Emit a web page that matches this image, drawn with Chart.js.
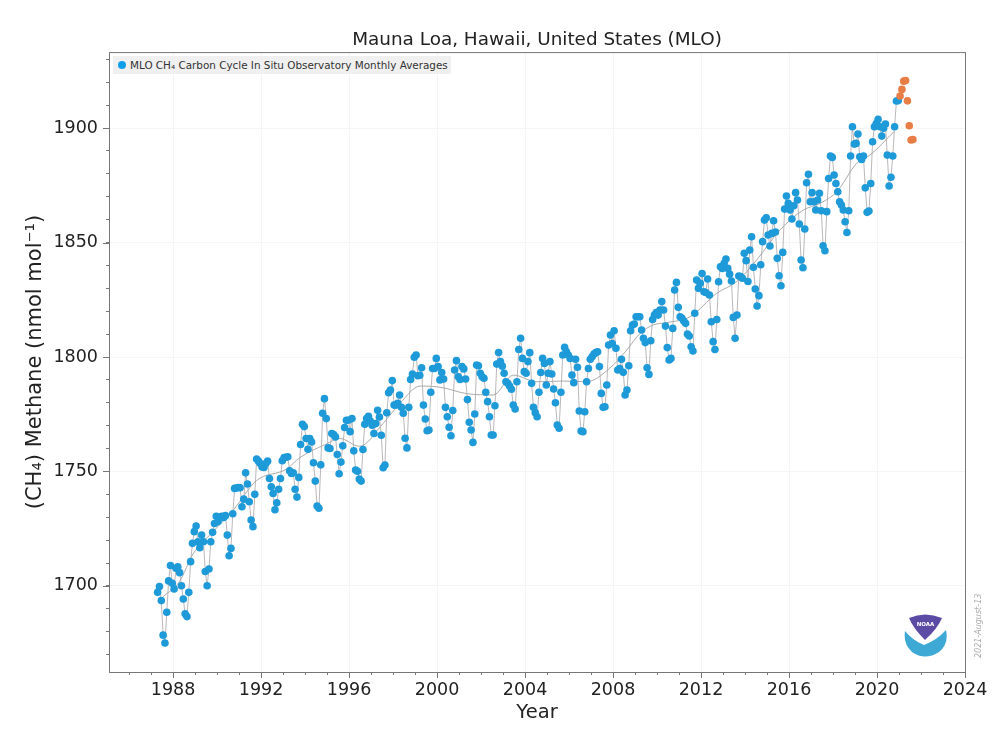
<!DOCTYPE html>
<html>
<head>
<meta charset="utf-8">
<title>Mauna Loa CH4</title>
<script src="https://cdn.jsdelivr.net/npm/chart.js@4"></script>
<style>
    html, body { margin: 0; padding: 0; background: #fff; font-family: "DejaVu Sans", sans-serif; }
    #wrap { position: relative; width: 1000px; height: 739px; overflow: hidden; }
    #legend { position: absolute; left: 113px; top: 56px; width: 338px; height: 18px; background: #f0f0f0; font-size: 10.4px; line-height: 18px; color: #333; white-space: nowrap; }
    #legend i { position: absolute; left: 5px; top: 5px; width: 8px; height: 8px; border-radius: 50%; background: #0f9fea; }
    #legend span { position: absolute; left: 17px; }
    #stamp { position: absolute; left: 974px; top: 658px; transform-origin: 0 0; transform: rotate(-90deg); font-size: 8px; font-style: italic; color: #aaa; white-space: nowrap; }
    #logo { position: absolute; left: 904px; top: 614px; }
</style>
</head>
<body>
<div id="wrap">
    <canvas id="chart" width="1000" height="739"></canvas>
    <div id="legend"><i></i><span>MLO CH₄ Carbon Cycle In Situ Observatory Monthly Averages</span></div>
    <div id="stamp">2021-August-13</div>
    <svg id="logo" width="44" height="44" viewBox="0 0 44 44">
        <path d="M5 4 Q21 -3 38 4 Q34 14 21 26 Q9 14 5 4Z" fill="#5b4ba5"/>
        <path d="M1 17 Q8 26 20 31 Q33 26 42 16 Q45 30 35 38 Q21 47 8 38 Q-1 30 1 17Z" fill="#3fa9d6"/>
        <text x="21.5" y="12" text-anchor="middle" font-size="5.5" font-weight="bold" fill="#fff" font-family="DejaVu Sans">NOAA</text>
    </svg>
</div>
<script>
// monthly averages, first point is spring 1987
var firstYear = 1987.3
var mloMonthly = [
    1697.2,1699.7,1693.6,1678.5,1675.1,1688.5,1702.2,1708.9,1701.2,1698.7,1707.7,1708.4,
    1705.8,1700.1,1694.3,1687.8,1686.6,1697.2,1710.6,1718.6,1723.7,1726.2,1719.3,1716.7,
    1722.2,1719.3,1706.3,1700.1,1707.4,1719.3,1723.4,1727.3,1730.4,1728.1,1730.1,1730.4,
    1729.9,1730.7,1722.2,1713.2,1716.4,1731.5,1742.6,1742.8,1743,1742.9,1734.6,1737.9,
    1749.4,1744.5,1736.8,1728.8,1725.9,1740,1755.4,1754.5,1753.5,1752,1751.7,1753.5,
    1754.5,1746.9,1743.3,1740.4,1733.3,1736.3,1742.2,1746.9,1754.7,1756.1,1756.2,1756.4,
    1750.3,1749.1,1749.4,1742.2,1738.8,1747.4,1761.8,1770.6,1769.6,1764.4,1759.7,1764.4,
    1762.9,1753.8,1745.8,1734.9,1733.9,1752.9,1775.4,1781.8,1773.1,1760.3,1760,1766.6,
    1766.1,1765.1,1757.4,1749,1754.1,1761.2,1769.2,1772.4,1772.4,1767.4,1773.1,1759,
    1750.6,1750.1,1746.7,1745.8,1759.6,1770.6,1773.1,1774.1,1772,1770.2,1766.6,1770.9,
    1776.7,1773.8,1765.8,1751.6,1752.8,1775.6,
    1784.4,1785.6,1789.7,1779,1779,1779.8,1783.4,1778,1775.4,1764.5,1760.3,
    1778,1790.2,1792.6,1799.9,1800.9,1791.8,1792,1795.3,1779,1772.9,1767.8,1768.1,
    1784.6,1795,1795,1799.4,1795.8,1790,1793.2,1790.4,1778,1773.9,1769.3,1765.6,
    1776.6,1794.3,1798.4,1791.4,1790.2,1795.8,1794.8,1790.4,1781.4,1771.5,1768.1,1762.7,
    1775.1,1796.5,1796.2,1792.9,1791.4,1790.7,1784.6,1780.5,1773.9,1765.9,1765.9,1778.7,
    1796.9,1802,1798,1796,1792.9,1789.2,1788.5,1787.3,1785.9,1779,1777.3,1789.2,
    1803.3,1808.2,1799.4,1793.6,1792.9,1798,1801.9,1788.5,1778,1775.7,1773.9,1784.6,
    1793.2,1799.4,1797.2,1787.8,1792.9,1798,1792.6,1786,1780,1770.3,1768.9,1784.6,
    1800.9,1804.2,1802.3,1800.9,1799.4,1792.1,1788.8,1799,1795.5,1776.4,1767.7,1767.4,
    1776.1,1789.2,1795,1799,1800.1,1801.3,1801.9,1802.3,1795.8,1784.1,1778,1778.3,
    1787.8,1805.2,1809.6,1805.9,1811.5,1803.8,1794.3,1795,1799,1793.3,1783.4,1785.6,
    1796.2,1811.5,1814,1814.4,1817.6,1817.6,1817.6,1811.8,1808.2,1806.3,1795.3,1792.4,
    1807.1,1816.4,1818.3,1819.4,1818.3,1820.5,1824.2,1820.5,1813.5,1804.1,1798.7,1799.4,
    1812.5,1829.3,1832.6,1821.7,1817.6,1816.9,1815.7,1814.7,1810,1809.2,1804.5,1802.6,
    1819.1,1833.6,1830,1832.2,1836.5,1828.5,1828.2,1834.1,1827.1,1815.4,1806.7,1803.3,
    1816.4,1832.9,1839.4,1838.7,1840.9,1842.8,1838.7,1836.2,1833.2,1817.3,1808.2,1818.3,
    1835.4,1835.1,1834.4,1845.3,1842.1,1833,1846.7,1852.5,1839.2,1829.7,1822.3,1826.8,
    1840.3,1850.4,1859.8,1860.8,1853.3,1848.5,1854,1859.5,1854.6,1843.1,1835.5,1831.1,
    1845.7,1864.6,1870.3,1867.1,1864.2,1860.3,1866.1,1871.8,1868.6,1858.1,1842.4,1839,
    1855.9,1876.1,1879.8,1867.8,1871.8,1867.8,1864.2,1868.6,1871.5,1863.9,1848.6,1846.4,
    1863.5,1878,1887.8,1887.2,1879.5,1875.8,1872.2,1867.8,1866.4,1864.2,1859.1,1854.4,
    1863.9,1887.8,1900.6,1893,1893.3,1897.4,1887.5,1886.3,1887.8,1873.9,1863.2,1863.8,
    1875.8,1894,1900.6,1902,1903.8,1900.6,1896.5,1899.9,1901.8,1888.2,1874.7,1878.5,
    1887.8,1900.6,1911.8,1912
]
// preliminary months at the end, drawn orange
var mloPrelim = [1914,1916.9,1920.5,1920.8,1911.9,1901,1894.8,1895]
// smoothed trend
var trendYears = [1987.55,1988.3,1988.91,1989.82,1990.73,1991.79,1993.15,1993.76,1994.97,1995.58,1996.48,1997.55,
    1998.32,1999.23,2000.14,2001.35,2002.56,2003.47,2004.53,2005.74,2006.8,2008.01,2008.62,2009.23,2009.83,2010.44,
    2011.5,2012.71,2013.62,2014.53,2015.59,2016.65,2017.41,2018.17,2019.08,2019.68,2020.77]
var trendValues = [1695.3,1702,1714,1723.7,1733,1746,1751,1756,1762,1764.4,1761,1771,
    1779.8,1787.3,1786.8,1784,1783.4,1792.1,1789.2,1789.5,1789.2,1796.5,1803,1810.3,1814,1815,
    1817.6,1827.8,1832.9,1842.4,1855.5,1864.2,1867.1,1872.2,1884.6,1888.2,1898.4]

var xMin = 1985.09, xMax = 2024
var yMin = 1662.4, yMax = 1933.2

function monthlyPoints(values, offset) {
    return values.map((v, i) => ({x: firstYear + (i + offset) / 12, y: v}))
}

function range(from, to, step) {
    var out = []
    for(var v=from; v<=to; v+=step) out.push({value: v})
    return out
}

// frame around the plot and longer ticks for the labelled values
var framePlugin = {
    id: 'frame',
    afterDraw(chart) {
        var ctx = chart.ctx, a = chart.chartArea
        ctx.save()
        ctx.strokeStyle = '#777'
        ctx.lineWidth = 1
        ctx.strokeRect(a.left + 0.5, a.top + 0.5, a.right - a.left, a.bottom - a.top)
        ctx.beginPath()
        chart.scales.x.ticks.forEach(t => {
            if(t.value % 4 === 0) {
                var px = Math.round(chart.scales.x.getPixelForValue(t.value)) + 0.5
                ctx.moveTo(px, a.bottom)
                ctx.lineTo(px, a.bottom + 6)
            }
        })
        chart.scales.y.ticks.forEach(t => {
            if(t.value % 50 === 0) {
                var py = Math.round(chart.scales.y.getPixelForValue(t.value)) + 0.5
                ctx.moveTo(a.left, py)
                ctx.lineTo(a.left - 6, py)
            }
        })
        ctx.stroke()
        ctx.restore()
    }
}

new Chart(document.getElementById('chart').getContext('2d'), {
    type: 'scatter',
    plugins: [framePlugin],
    data: {
        datasets: [{
            label: 'Trend',
            data: trendYears.map((x, i) => ({x: x, y: trendValues[i]})),
            showLine: true,
            borderColor: 'rgba(150,150,150,0.8)',
            borderWidth: 1,
            cubicInterpolationMode: 'monotone',
            pointRadius: 0,
            order: 3
        }, {
            label: 'Monthly',
            data: monthlyPoints(mloMonthly, 0),
            showLine: true,
            borderColor: 'rgba(170,165,170,0.8)',
            borderWidth: 1,
            backgroundColor: '#1e9ad9',
            pointBackgroundColor: '#1e9ad9',
            pointBorderWidth: 0,
            pointRadius: 3.8,
            order: 2
        }, {
            label: 'Preliminary',
            data: monthlyPoints(mloPrelim, mloMonthly.length),
            showLine: false,
            backgroundColor: '#e87d45',
            pointBackgroundColor: '#e87d45',
            pointBorderWidth: 0,
            pointRadius: 3.8,
            order: 1
        }]
    },
    options: {
        responsive: false,
        animation: false,
        layout: {padding: {right: 35}},
        plugins: {
            legend: {display: false},
            tooltip: {enabled: false},
            title: {
                display: true,
                text: 'Mauna Loa, Hawaii, United States (MLO)',
                fullSize: false,
                color: '#222',
                font: {family: '"DejaVu Sans"', size: 18.4, weight: 'normal'},
                padding: {top: 29, bottom: 1}
            }
        },
        scales: {
            x: {
                type: 'linear',
                min: xMin,
                max: xMax,
                afterBuildTicks: s => { s.ticks = range(1986, 2024, 1) },
                afterFit: s => { s.height = 67 },
                grid: {
                    color: c => c.tick && c.tick.value % 4 === 0 ? '#f5f5f5' : 'transparent',
                    tickColor: '#777',
                    tickLength: 3,
                    drawTicks: true
                },
                border: {display: false},
                ticks: {
                    autoSkip: false,
                    maxRotation: 0,
                    padding: 5,
                    color: '#222',
                    font: {family: '"DejaVu Sans"', size: 17.5},
                    callback: v => v % 4 === 0 ? String(v) : ''
                },
                title: {
                    display: true,
                    text: 'Year',
                    color: '#222',
                    font: {family: '"DejaVu Sans"', size: 19.5},
                    padding: {top: 0, bottom: 14}
                }
            },
            y: {
                min: yMin,
                max: yMax,
                afterBuildTicks: s => { s.ticks = range(1670, 1930, 10) },
                afterFit: s => { s.width = 109 },
                grid: {
                    color: c => c.tick && c.tick.value % 50 === 0 ? '#f5f5f5' : 'transparent',
                    tickColor: '#777',
                    tickLength: 3
                },
                border: {display: false},
                ticks: {
                    autoSkip: false,
                    padding: 8,
                    color: '#222',
                    font: {family: '"DejaVu Sans"', size: 17.5},
                    callback: v => v % 50 === 0 ? String(v) : ''
                },
                title: {
                    display: true,
                    text: '(CH₄) Methane (nmol mol⁻¹)',
                    color: '#222',
                    font: {family: '"DejaVu Sans"', size: 21},
                    padding: {top: 23, bottom: 0}
                }
            }
        }
    }
})
</script>
</body>
</html>
